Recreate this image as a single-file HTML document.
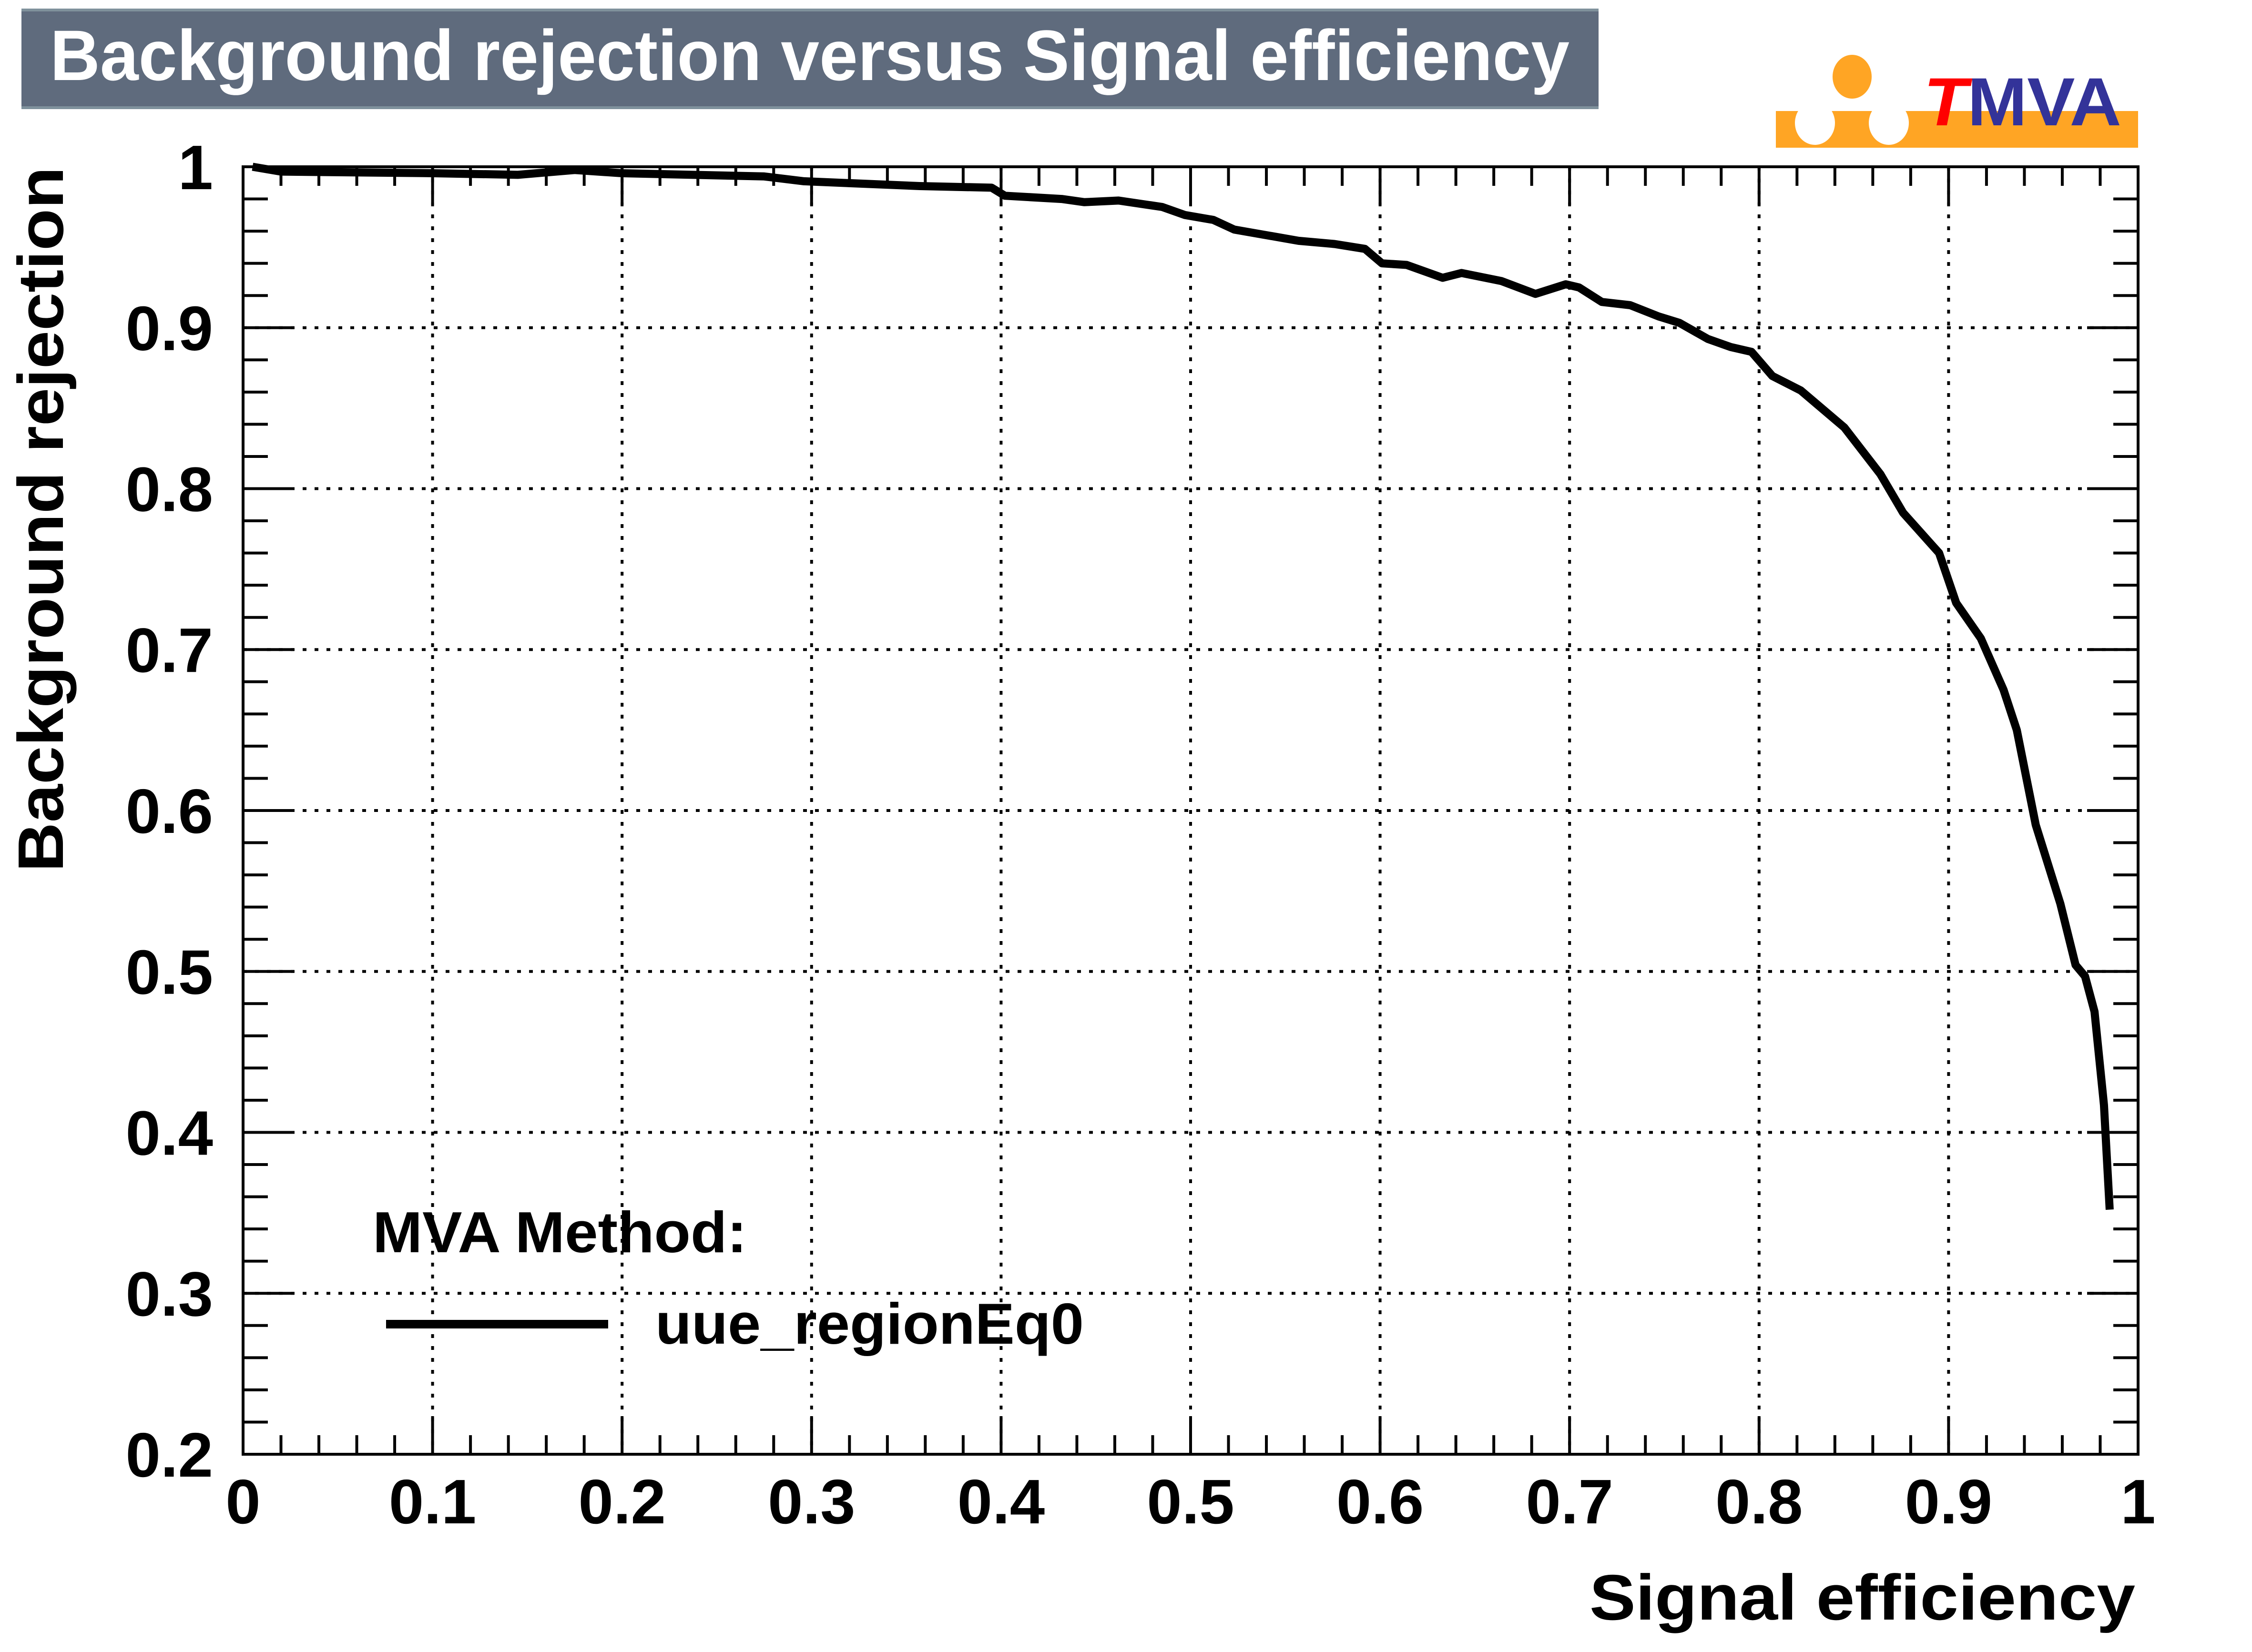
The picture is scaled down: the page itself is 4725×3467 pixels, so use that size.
<!DOCTYPE html>
<html><head><meta charset="utf-8">
<style>
html,body{margin:0;padding:0;background:#fff;}
svg{display:block;}
text{font-family:"Liberation Sans",sans-serif;font-weight:bold;}
</style></head>
<body>
<svg id="chart" width="4725" height="3467" viewBox="0 0 4725 3467" xmlns="http://www.w3.org/2000/svg">
  <rect x="0" y="0" width="4725" height="3467" fill="#fff"/>
  <g>
    <rect x="45" y="18" width="3309" height="211" fill="#7f919c"/>
    <rect x="45" y="24" width="3309" height="199" fill="#5f6b7d"/>
    <text x="105" y="168" font-size="150" fill="#fff" textLength="3188" lengthAdjust="spacingAndGlyphs">Background rejection versus Signal efficiency</text>
  </g>
  <g>
    <rect x="3726" y="233" width="760" height="77" fill="#ffa524"/>
    <ellipse cx="3886" cy="161" rx="41" ry="46" fill="#ffa524"/>
    <ellipse cx="3808" cy="258" rx="42" ry="46" fill="#fff"/>
    <ellipse cx="3963" cy="258" rx="42" ry="46" fill="#fff"/>
    <text x="4036" y="263" font-size="143" textLength="415" lengthAdjust="spacingAndGlyphs"><tspan fill="#ff0000" font-style="italic">T</tspan><tspan fill="#333399">MVA</tspan></text>
  </g>
  <g id="grid"></g>
  <g id="ticks"></g>
  <g id="xlabels"></g>
  <g id="ylabels"></g>
  <path id="curve" fill="none" stroke="#000" stroke-width="17" stroke-linejoin="round"/>
  <rect x="510" y="350" width="3976" height="2702" fill="none" stroke="#000" stroke-width="6"/>
  <text x="3335" y="3399" font-size="135" textLength="1145" lengthAdjust="spacingAndGlyphs">Signal efficiency</text>
  <text transform="translate(132,350) rotate(-90)" x="-1480" y="0" font-size="135" textLength="1480" lengthAdjust="spacingAndGlyphs">Background rejection</text>
  <g>
    <text x="782" y="2628" font-size="122" textLength="785" lengthAdjust="spacingAndGlyphs">MVA Method:</text>
    <line x1="810" y1="2779" x2="1276" y2="2779" stroke="#000" stroke-width="18"/>
    <text x="1375" y="2820" font-size="122" textLength="899" lengthAdjust="spacingAndGlyphs">uue_regionEq0</text>
  </g>
</svg>
<script>
const effS = [0.005,0.02,0.1,0.145,0.175,0.2,0.275,0.296,0.357,0.395,0.402,0.432,0.444,0.462,0.485,0.497,0.512,0.523,0.557,0.576,0.592,0.601,0.614,0.633,0.643,0.664,0.682,0.698,0.705,0.717,0.732,0.747,0.758,0.773,0.785,0.796,0.807,0.822,0.845,0.864,0.876,0.895,0.904,0.917,0.929,0.936,0.946,0.959,0.967,0.972,0.977,0.982,0.985];
const rejB = [1.0,0.997,0.996,0.995,0.998,0.996,0.994,0.991,0.988,0.987,0.982,0.980,0.978,0.979,0.975,0.970,0.967,0.961,0.954,0.952,0.949,0.940,0.939,0.931,0.934,0.929,0.921,0.927,0.925,0.916,0.914,0.907,0.903,0.893,0.888,0.885,0.870,0.861,0.838,0.809,0.785,0.760,0.729,0.707,0.675,0.650,0.591,0.542,0.504,0.497,0.475,0.417,0.352];
const xTickLabels = ["0","0.1","0.2","0.3","0.4","0.5","0.6","0.7","0.8","0.9","1"];
const yTickLabels = ["0.2","0.3","0.4","0.5","0.6","0.7","0.8","0.9","1"];

const L=510,R=4486,T=350,B=3052,XMIN=0,XMAX=1,YMIN=0.2,YMAX=1;
function sx(v){return L+(v-XMIN)/(XMAX-XMIN)*(R-L);}
function sy(v){return B-(v-YMIN)/(YMAX-YMIN)*(B-T);}
const NS="http://www.w3.org/2000/svg";
function mk(tag,attrs,parent){const e=document.createElementNS(NS,tag);for(const k in attrs)e.setAttribute(k,attrs[k]);parent.appendChild(e);return e;}

const grid=document.getElementById('grid'),ticks=document.getElementById('ticks');
const xl=document.getElementById('xlabels'),yl=document.getElementById('ylabels');
xTickLabels.forEach((t,i)=>{const v=parseFloat(t);if(v<=XMIN||v>=XMAX)return;
  const g=mk('line',{x1:sx(v),y1:T,x2:sx(v),y2:B,stroke:'#000','stroke-width':6,'stroke-dasharray':'8 17'},grid);
  
  });
yTickLabels.forEach((t)=>{const v=parseFloat(t);if(v<=YMIN||v>=YMAX)return;
  const g=mk('line',{x1:L,y1:sy(v),x2:R,y2:sy(v),stroke:'#000','stroke-width':6,'stroke-dasharray':'8 17'},grid);
  
  });
for(let i=0;i<=50;i++){const v=XMIN+i*(XMAX-XMIN)/50;const len=(i%5===0)?80:40;const x=sx(v);
  const a=mk('line',{x1:x,y1:B,x2:x,y2:B-len,stroke:'#000','stroke-width':6},ticks);
  
  
  const b=mk('line',{x1:x,y1:T,x2:x,y2:T+len,stroke:'#000','stroke-width':6},ticks);
  
  }
for(let i=0;i<=40;i++){const v=YMIN+i*(YMAX-YMIN)/40;const len=(i%5===0)?107:52;const y=sy(v);
  const a=mk('line',{x1:L,y1:y,x2:L+len,y2:y,stroke:'#000','stroke-width':6},ticks);
  
  
  const b=mk('line',{x1:R,y1:y,x2:R-len,y2:y,stroke:'#000','stroke-width':6},ticks);
  
  }
xTickLabels.forEach(t=>{const e=mk('text',{x:sx(parseFloat(t)),y:3197,'font-size':132,'text-anchor':'middle'},xl);e.textContent=t;
  
  });
yTickLabels.forEach(t=>{const e=mk('text',{x:447,y:sy(parseFloat(t))+47,'font-size':132,'text-anchor':'end'},yl);e.textContent=t;
  
  });
let d='';effS.forEach((v,i)=>{d+=(i?'L':'M')+sx(v).toFixed(1)+' '+sy(rejB[i]).toFixed(1);});
document.getElementById('curve').setAttribute('d',d);
</script>
</body></html>
